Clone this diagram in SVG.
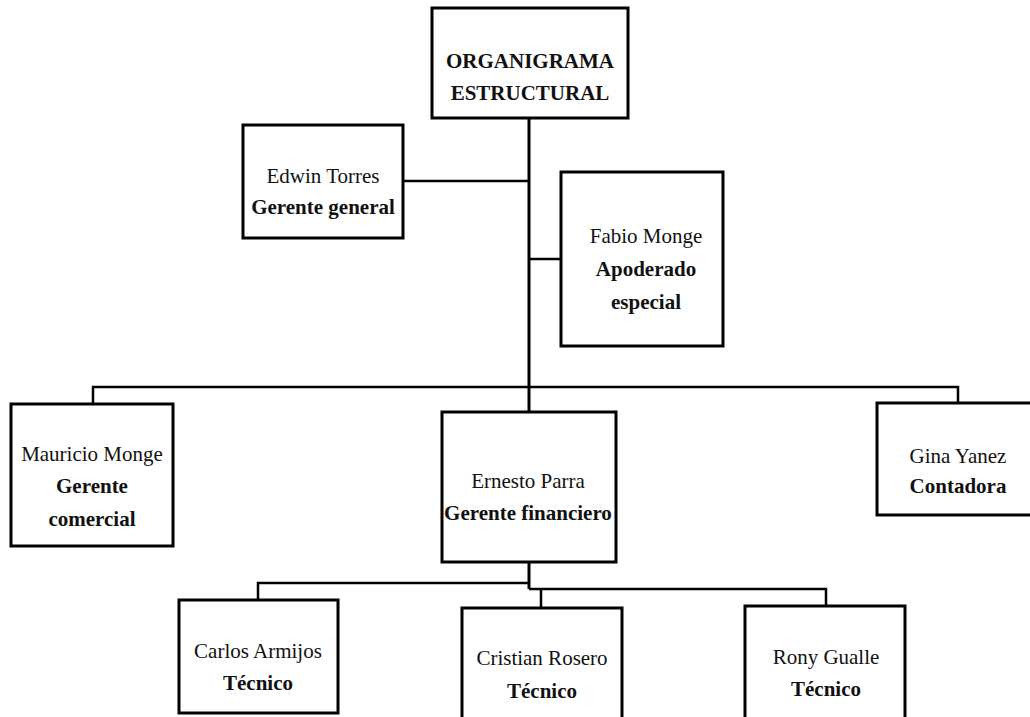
<svg xmlns="http://www.w3.org/2000/svg" width="1030" height="717" viewBox="0 0 1030 717">
<style>
.box{fill:#fff;stroke:#000;stroke-width:3}
.ln{fill:none;stroke:#000;stroke-width:2.5}
.tk{fill:none;stroke:#000;stroke-width:3}
text{font-family:"Liberation Serif","Times New Roman",serif;font-size:21px;fill:#111;text-anchor:middle}
.b{font-weight:bold}
</style>
<rect width="1030" height="717" fill="#fff"/>
<g id="connectors">
<path class="tk" d="M529,118 V388"/>
<path class="ln" d="M403,181 H529"/>
<path class="ln" d="M529,259 H561"/>
<path class="ln" d="M93,404 V387 H958 V403"/>
<path class="tk" d="M529,387 V412"/>
<path class="tk" d="M529,562 V589"/>
<path class="ln" d="M258,600 V583 H529"/>
<path class="ln" d="M529,589 H826 V606"/>
<path class="ln" d="M541,589 V608"/>
</g>
<g id="n-title">
<rect class="box" x="432" y="8" width="196" height="110"/>
<text class="b" x="530" y="68">ORGANIGRAMA</text>
<text class="b" x="530" y="100">ESTRUCTURAL</text>
</g>
<g id="n-edwin">
<rect class="box" x="243" y="125" width="160" height="113"/>
<text x="323" y="183">Edwin Torres</text>
<text class="b" x="323" y="214">Gerente general</text>
</g>
<g id="n-fabio">
<rect class="box" x="561" y="172" width="162" height="174"/>
<text x="646" y="243">Fabio Monge</text>
<text class="b" x="646" y="276">Apoderado</text>
<text class="b" x="646" y="309">especial</text>
</g>
<g id="n-mauricio">
<rect class="box" x="11" y="404" width="162" height="142"/>
<text x="92" y="461">Mauricio Monge</text>
<text class="b" x="92" y="493">Gerente</text>
<text class="b" x="92" y="526">comercial</text>
</g>
<g id="n-ernesto">
<rect class="box" x="442" y="412" width="174" height="150"/>
<text x="528" y="488">Ernesto Parra</text>
<text class="b" x="528" y="520">Gerente financiero</text>
</g>
<g id="n-gina">
<rect class="box" x="877" y="403" width="170" height="112"/>
<text x="958" y="463">Gina Yanez</text>
<text class="b" x="958" y="493">Contadora</text>
</g>
<g id="n-carlos">
<rect class="box" x="179" y="600" width="159" height="113"/>
<text x="258" y="658">Carlos Armijos</text>
<text class="b" x="258" y="690">Técnico</text>
</g>
<g id="n-cristian">
<rect class="box" x="462" y="608" width="160" height="130"/>
<text x="542" y="665">Cristian Rosero</text>
<text class="b" x="542" y="698">Técnico</text>
</g>
<g id="n-rony">
<rect class="box" x="745" y="606" width="160" height="130"/>
<text x="826" y="664">Rony Gualle</text>
<text class="b" x="826" y="696">Técnico</text>
</g>
</svg>
